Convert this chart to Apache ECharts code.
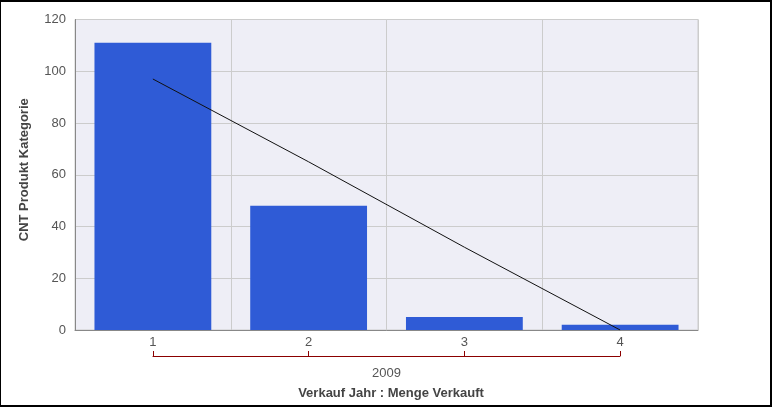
<!DOCTYPE html>
<html><head><meta charset="utf-8">
<script src="https://cdn.jsdelivr.net/npm/echarts@6/dist/echarts.min.js"></script>
<style>
html,body{margin:0;padding:0;background:#fff;}
#wrap{width:772px;height:407px;box-sizing:border-box;border-style:solid;border-color:#000;border-width:2px 2px 2px 1px;position:relative;}
#c{position:absolute;left:-1px;top:-2px;width:772px;height:407px;}
</style></head>
<body><div id="wrap"><div id="c"></div></div>
<script>
const categories = ['1', '2', '3', '4'];
const values = [111, 48, 5, 2];
const trend = [97, 65, 32, 0];
const groupLabel = '2009';
const yTitle = 'CNT Produkt Kategorie';
const xTitle = 'Verkauf Jahr : Menge Verkauft';

const font = 'Liberation Sans, Arial, sans-serif';
const chart = echarts.init(document.getElementById('c'), null, {renderer: 'canvas'});
chart.setOption({
  animation: false,
  textStyle: {fontFamily: font},
  title: {
    text: xTitle, left: 386, top: 382, textAlign: 'center',
    textStyle: {fontSize: 13, fontWeight: 'bold', color: '#444', fontFamily: font}
  },
  grid: [
    {left: 75, right: 74, top: 19.5, bottom: 77, show: true, backgroundColor: '#EEEEF6', borderColor: '#cccccc', borderWidth: 1},
    {left: 153, right: 152, top: 351, height: 5}
  ],
  xAxis: [
    {
      gridIndex: 0, type: 'category', data: categories,
      axisLine: {show: true, lineStyle: {color: '#888', width: 1}},
      axisTick: {show: false},
      axisLabel: {color: '#555', fontSize: 13, margin: 6, fontFamily: font},
      splitLine: {show: true, lineStyle: {color: '#cccccc', width: 1}}
    },
    {
      gridIndex: 1, type: 'category', data: categories, boundaryGap: false,
      axisLine: {show: true, lineStyle: {color: '#8B0000', width: 1}},
      axisTick: {show: true, inside: true, length: 5, lineStyle: {color: '#8B0000'}},
      axisLabel: {show: false},
      splitLine: {show: false},
      name: groupLabel, nameLocation: 'middle', nameGap: 11,
      nameTextStyle: {color: '#555', fontSize: 13, fontFamily: font}
    }
  ],
  yAxis: [
    {
      gridIndex: 0, type: 'value', min: 0, max: 120, interval: 20,
      axisLine: {show: true, lineStyle: {color: '#888', width: 1}},
      axisTick: {show: false},
      axisLabel: {color: '#555', fontSize: 13, margin: 9, fontFamily: font},
      splitLine: {show: true, lineStyle: {color: '#cccccc', width: 1}},
      name: yTitle, nameLocation: 'middle', nameGap: 44, nameRotate: 90,
      nameTextStyle: {color: '#444', fontSize: 13, fontWeight: 'bold', fontFamily: font, padding: [0, 0, 0, 10]}
    },
    {gridIndex: 1, type: 'value', min: 0, max: 1, show: false}
  ],
  series: [
    {
      type: 'bar', xAxisIndex: 0, yAxisIndex: 0, data: values,
      barWidth: '75%', itemStyle: {color: '#2F5BD6'}
    },
    {
      type: 'line', xAxisIndex: 0, yAxisIndex: 0, data: trend,
      symbol: 'none', lineStyle: {color: '#111', width: 1}, z: 5
    }
  ]
});
</script>
</body></html>
